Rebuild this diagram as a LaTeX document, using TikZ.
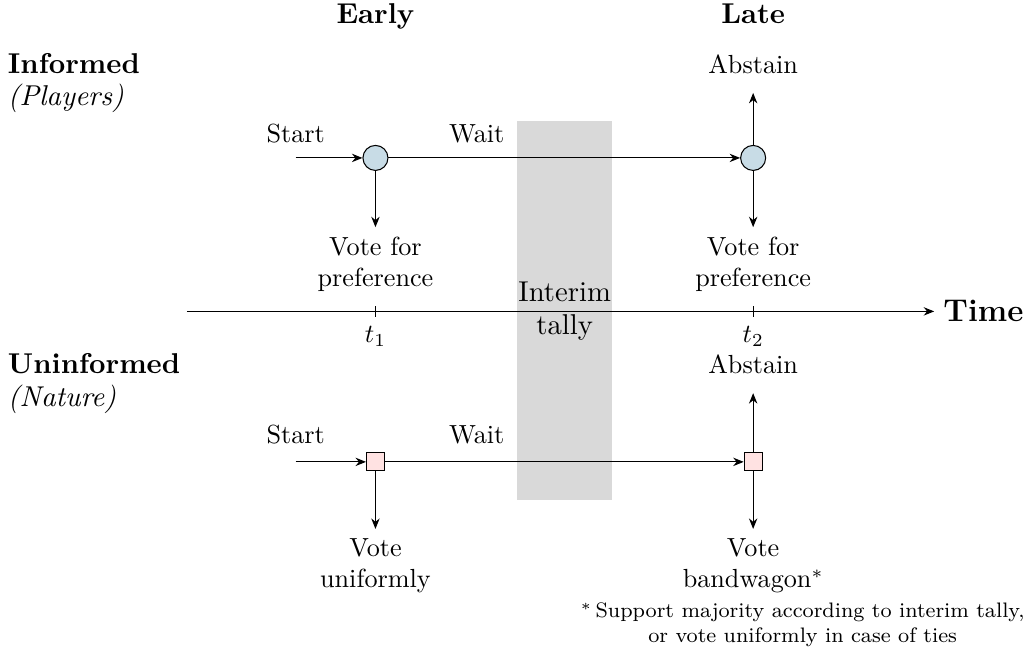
\documentclass[tikz,border=0pt]{standalone}
\usepackage{xcolor}
\usepackage{amsmath}
\usepackage{tikz}
\usetikzlibrary{arrows.meta}
\definecolor{infofill}{RGB}{200,220,230}
\definecolor{natfill}{RGB}{255,226,226}
\definecolor{tallygray}{RGB}{217,217,217}
\tikzset{
  >={Stealth[length=4pt,width=3.2pt]},
  player/.style={circle,draw,fill=infofill,minimum size=0.336cm,inner sep=0pt},
  nature/.style={rectangle,draw,fill=natfill,minimum size=0.24cm,inner sep=0pt},
  outcome/.style={align=center,anchor=north,inner sep=3.4pt},
  abstainbox/.style={anchor=base,inner xsep=3.4pt,inner ysep=7.3pt},
  headtext/.style={font=\fontsize{10.95}{13.6}\selectfont\bfseries,anchor=base},
  rowtext/.style={font=\fontsize{10.95}{13.6}\selectfont,anchor=base west,inner sep=0pt},
  steplabel/.style={anchor=base}
}

\begin{document}
\begin{tikzpicture}
\useasboundingbox (0,0) rectangle (13.84,8.74);
% interim tally band
\fill[tallygray] (6.94,2.03) rectangle (8.21,7.11);
\node[align=center,font=\fontsize{10.95}{12.6}\selectfont] (tally) at (7.58,4.56) {Interim\\tally};

% headings
\node[headtext] (early) at (5.04,8.43) {Early};
\node[headtext] (late) at (10.11,8.43) {Late};
\node[rowtext,font=\fontsize{10.95}{13.6}\selectfont\bfseries] (inf) at (0.1,7.76) {Informed};
\node[rowtext,font=\fontsize{10.95}{13.6}\selectfont\itshape] (pl) at (0.1,7.33) {(Players)};
\node[rowtext,font=\fontsize{10.95}{13.6}\selectfont\bfseries] (uninf) at (0.1,3.73) {Uninformed};
\node[rowtext,font=\fontsize{10.95}{13.6}\selectfont\itshape] (nat) at (0.1,3.29) {(Nature)};

% time axis
\coordinate (ax) at (2.51,4.56);
\node[anchor=west,font=\fontsize{12}{14}\selectfont\bfseries] (time) at (12.54,4.56) {Time};
\draw[->] (ax) -- (time.west);
\coordinate (tk1) at (5.04,4.56);
\coordinate (tk2) at (10.11,4.56);
\draw ([yshift=2pt]tk1) -- ([yshift=-2pt]tk1) node[below,inner sep=3.4pt] (t1) {$t_1$};
\draw ([yshift=2pt]tk2) -- ([yshift=-2pt]tk2) node[below,inner sep=3.4pt] (t2) {$t_2$};

% informed row
\coordinate (st1) at (3.97,6.62);
\node[player] (c1) at (5.04,6.62) {};
\node[player] (c2) at (10.11,6.62) {};
\node[steplabel] (start1) at (3.97,6.83) {Start};
\node[steplabel] (wait1) at (6.40,6.83) {Wait};
\node[outcome] (vp1) at (5.04,5.69) {Vote for\\preference};
\node[outcome] (vp2) at (10.11,5.69) {Vote for\\preference};
\node[abstainbox] (ab1) at (10.11,7.76) {Abstain};
\draw[->] (st1) -- (c1);
\draw[->] (c1) -- (c2);
\draw[->] (c1) -- (vp1);
\draw[->] (c2) -- (vp2);
\draw[->] (c2) -- (ab1);

% uninformed row
\coordinate (st2) at (3.97,2.54);
\node[nature] (s1) at (5.04,2.54) {};
\node[nature] (s2) at (10.11,2.54) {};
\node[steplabel] (start2) at (3.97,2.79) {Start};
\node[steplabel] (wait2) at (6.40,2.79) {Wait};
\node[outcome] (vu) at (5.04,1.64) {Vote\\uniformly};
\node[outcome] (vb) at (10.11,1.64) {Vote\\bandwagon$^*$};
\node[abstainbox] (ab2) at (10.11,3.73) {Abstain};
\draw[->] (st2) -- (s1);
\draw[->] (s1) -- (s2);
\draw[->] (s1) -- (vu);
\draw[->] (s2) -- (vb);
\draw[->] (s2) -- (ab2);

% footnote
\node[align=center,anchor=north east,inner sep=0pt,font=\fontsize{8}{9.2}\selectfont] (note) at (13.76,0.65)
  {$^*$\,Support majority according to interim tally,\\or vote uniformly in case of ties};
\end{tikzpicture}
\end{document}
